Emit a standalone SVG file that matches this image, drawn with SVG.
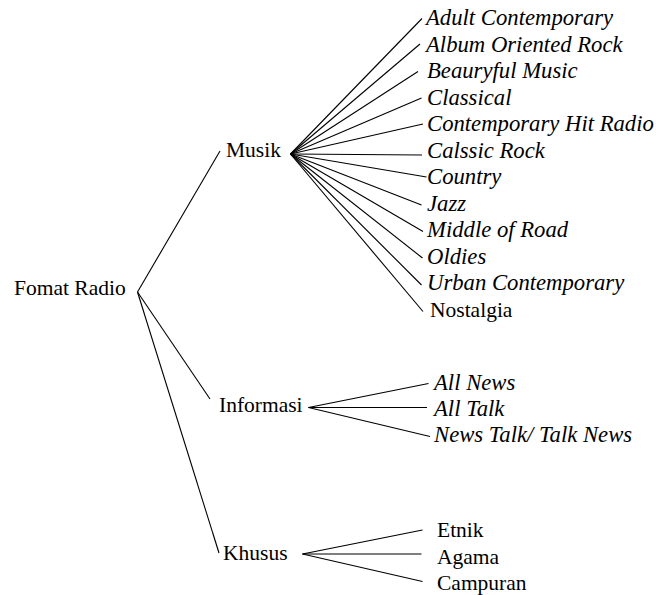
<svg xmlns="http://www.w3.org/2000/svg" width="656" height="595" viewBox="0 0 656 595">
<style>
text{font-family:"Liberation Serif","Times New Roman",serif;fill:#000}
.r{font-size:21.5px}
.i{font-size:22.7px;font-style:italic}
.c line{stroke:#000;stroke-width:1.1}
</style>
<rect width="656" height="595" fill="#fff"/>
<g class="c" id="connectors">
<line x1="137.5" y1="292" x2="220" y2="151"/>
<line x1="137.5" y1="292" x2="210" y2="399"/>
<line x1="137.5" y1="292" x2="219" y2="553"/>
<line x1="290.5" y1="154" x2="422" y2="18.5"/>
<line x1="290.5" y1="154" x2="420" y2="44"/>
<line x1="290.5" y1="154" x2="418" y2="71.5"/>
<line x1="290.5" y1="154" x2="421.5" y2="98"/>
<line x1="290.5" y1="154" x2="423" y2="124"/>
<line x1="290.5" y1="154" x2="422" y2="155"/>
<line x1="290.5" y1="154" x2="426.5" y2="177"/>
<line x1="290.5" y1="154" x2="421.5" y2="205"/>
<line x1="290.5" y1="154" x2="423" y2="231.5"/>
<line x1="290.5" y1="154" x2="422.5" y2="258"/>
<line x1="290.5" y1="154" x2="421.5" y2="285"/>
<line x1="290.5" y1="154" x2="423" y2="311.5"/>
<line x1="308.5" y1="407.5" x2="428.5" y2="383.5"/>
<line x1="308.5" y1="407.5" x2="427" y2="407.5"/>
<line x1="308.5" y1="407.5" x2="430" y2="436.5"/>
<line x1="302.5" y1="554" x2="422.5" y2="530"/>
<line x1="302.5" y1="554" x2="421.5" y2="554"/>
<line x1="302.5" y1="554" x2="422.5" y2="581.5"/>
</g>
<g id="fomat-radio"><text class="r" x="14" y="295">Fomat Radio</text></g>
<g id="musik"><text class="r" x="226" y="157">Musik</text></g>
<g id="informasi"><text class="r" x="219" y="411.5">Informasi</text></g>
<g id="khusus"><text class="r" x="223" y="560">Khusus</text></g>
<g id="adult-contemporary"><text class="i" x="426" y="25">Adult Contemporary</text></g>
<g id="album-oriented-rock"><text class="i" x="426" y="51.5">Album Oriented Rock</text></g>
<g id="beauryful-music"><text class="i" x="427" y="78">Beauryful Music</text></g>
<g id="classical"><text class="i" x="427" y="104.5">Classical</text></g>
<g id="contemporary-hit-radio"><text class="i" x="427" y="131">Contemporary Hit Radio</text></g>
<g id="calssic-rock"><text class="i" x="427" y="157.5">Calssic Rock</text></g>
<g id="country"><text class="i" x="427" y="184">Country</text></g>
<g id="jazz"><text class="i" x="427" y="210.5">Jazz</text></g>
<g id="middle-of-road"><text class="i" x="427" y="237">Middle of Road</text></g>
<g id="oldies"><text class="i" x="427" y="263.5">Oldies</text></g>
<g id="urban-contemporary"><text class="i" x="427" y="290">Urban Contemporary</text></g>
<g id="nostalgia"><text class="r" x="430" y="317">Nostalgia</text></g>
<g id="all-news"><text class="i" x="434" y="390">All News</text></g>
<g id="all-talk"><text class="i" x="434" y="416">All Talk</text></g>
<g id="news-talk"><text class="i" x="434" y="442">News Talk/ Talk News</text></g>
<g id="etnik"><text class="r" x="437" y="537">Etnik</text></g>
<g id="agama"><text class="r" x="437" y="563.5">Agama</text></g>
<g id="campuran"><text class="r" x="437" y="590">Campuran</text></g>
</svg>
